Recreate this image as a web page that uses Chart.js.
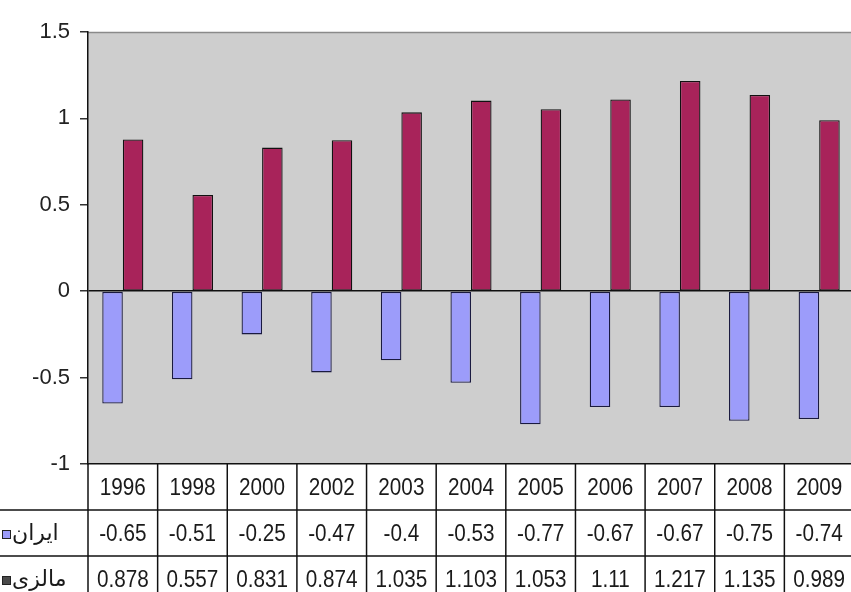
<!DOCTYPE html>
<html>
<head>
<meta charset="utf-8">
<script src="https://cdn.jsdelivr.net/npm/chart.js@4.4.1/dist/chart.umd.min.js"></script>
<style>
  html, body { margin: 0; padding: 0; background: #fff; overflow: hidden; }
  #wrap { width: 854px; height: 592px; position: relative; }
</style>
</head>
<body>
<div id="wrap"><canvas id="c"></canvas></div>
<script>
// Categories and series values
const years = ['1996', '1998', '2000', '2002', '2003', '2004', '2005', '2006', '2007', '2008', '2009'];
const iranValues = [-0.65, -0.51, -0.25, -0.47, -0.4, -0.53, -0.77, -0.67, -0.67, -0.75, -0.74];
const malaysiaValues = [0.878, 0.557, 0.831, 0.874, 1.035, 1.103, 1.053, 1.11, 1.217, 1.135, 0.989];
const seriesNames = ['ایران', 'مالزی'];
const yMin = -1, yMax = 1.5, yStep = 0.5;

const iranColor = '#9C9CFA';
const malaysiaColor = '#A8235A';
const FONT = '"Liberation Sans", Arial, sans-serif';

// Grey plot background with a thin top border
const plotBackground = {
  id: 'plotBackground',
  beforeDraw(chart) {
    const { ctx, chartArea: a } = chart;
    ctx.save();
    ctx.fillStyle = '#CECECE';
    ctx.fillRect(a.left, a.top, a.right - a.left, a.bottom - a.top);
    ctx.strokeStyle = '#8a8a8a';
    ctx.lineWidth = 1.5;
    ctx.beginPath();
    ctx.moveTo(a.left, a.top + 0.5);
    ctx.lineTo(a.right, a.top + 0.5);
    ctx.stroke();
    ctx.restore();
  }
};

// Draw text slightly condensed horizontally
function narrowText(ctx, text, x, y, sx) {
  ctx.save();
  ctx.translate(x, y);
  ctx.scale(sx, 1);
  ctx.fillText(text, 0, 0);
  ctx.restore();
}

// Data table under the plot: year row plus one row per series
const dataTable = {
  id: 'dataTable',
  afterDraw(chart) {
    const { ctx, chartArea: a, scales: { x } } = chart;
    const step = x.getPixelForValue(1) - x.getPixelForValue(0);
    const top = a.bottom;
    const rowH = 46;
    const rows = [
      { label: null, cells: years },
      { label: seriesNames[0], key: iranColor, cells: iranValues.map(String) },
      { label: seriesNames[1], key: '#4a4a4a', cells: malaysiaValues.map(String) }
    ];
    ctx.save();
    ctx.strokeStyle = '#111';
    ctx.lineWidth = 1.5;
    // horizontal rules
    for (let r = 1; r <= rows.length; r++) {
      const y = top + r * rowH;
      ctx.beginPath();
      ctx.moveTo(0, y);
      ctx.lineTo(chart.width, y);
      ctx.stroke();
    }
    // vertical rules at each category edge
    ctx.beginPath();
    ctx.moveTo(a.left, top);
    ctx.lineTo(a.left, top + rowH * rows.length);
    ctx.stroke();
    years.forEach((_, i) => {
      const xe = x.getPixelForValue(i) + step / 2;
      ctx.beginPath();
      ctx.moveTo(xe, top);
      ctx.lineTo(xe, top + rowH * rows.length);
      ctx.stroke();
    });
    // cell text
    ctx.fillStyle = '#1a1a1a';
    ctx.textAlign = 'center';
    ctx.textBaseline = 'middle';
    ctx.font = '23px ' + FONT;
    rows.forEach((row, r) => {
      const yc = top + r * rowH + rowH / 2 + 2;
      row.cells.forEach((t, i) => {
        narrowText(ctx, t, x.getPixelForValue(i), yc, 0.9);
      });
      if (row.label) {
        // legend key square
        ctx.fillStyle = row.key;
        ctx.fillRect(2, yc - 5, 9, 9);
        ctx.strokeStyle = '#222';
        ctx.lineWidth = 1;
        ctx.strokeRect(2.5, yc - 4.5, 8, 8);
        ctx.fillStyle = '#1a1a1a';
        ctx.textAlign = 'left';
        ctx.font = '22px "DejaVu Sans", sans-serif';
        ctx.fillText(row.label, 12, yc - 1);
        ctx.textAlign = 'center';
        ctx.font = '23px ' + FONT;
      }
    });
    ctx.restore();
  }
};

new Chart(document.getElementById('c'), {
  type: 'bar',
  data: {
    labels: years,
    datasets: [
      {
        label: seriesNames[0],
        data: iranValues,
        backgroundColor: iranColor,
        borderColor: '#1a1a40',
        borderWidth: 1.3,
        borderSkipped: false
      },
      {
        label: seriesNames[1],
        data: malaysiaValues,
        backgroundColor: malaysiaColor,
        borderColor: '#111',
        borderWidth: 1.3,
        borderSkipped: false
      }
    ]
  },
  options: {
    responsive: true,
    maintainAspectRatio: false,
    animation: false,
    categoryPercentage: 0.59,
    barPercentage: 1.0,
    layout: { padding: { top: 32, right: 0, bottom: 128, left: 0 } },
    plugins: {
      legend: { display: false },
      tooltip: { enabled: false }
    },
    scales: {
      x: {
        afterFit(scale) { scale.height = 0; },
        grid: { display: false },
        ticks: { display: false },
        border: { display: true, color: '#111', width: 1.5 }
      },
      y: {
        min: yMin,
        max: yMax,
        afterFit(scale) { scale.width = 88; },
        ticks: {
          stepSize: yStep,
          padding: 10,
          color: '#222',
          font: { family: FONT, size: 22 },
          callback: v => String(v)
        },
        grid: {
          drawOnChartArea: true,
          tickLength: 8,
          color: ctx => (ctx.tick && ctx.tick.value === 0 ? '#111' : 'rgba(0,0,0,0)'),
          tickColor: '#333',
          lineWidth: 1.5
        },
        border: { display: true, color: '#111', width: 1.5 }
      }
    }
  },
  plugins: [plotBackground, dataTable]
});
</script>
</body>
</html>
